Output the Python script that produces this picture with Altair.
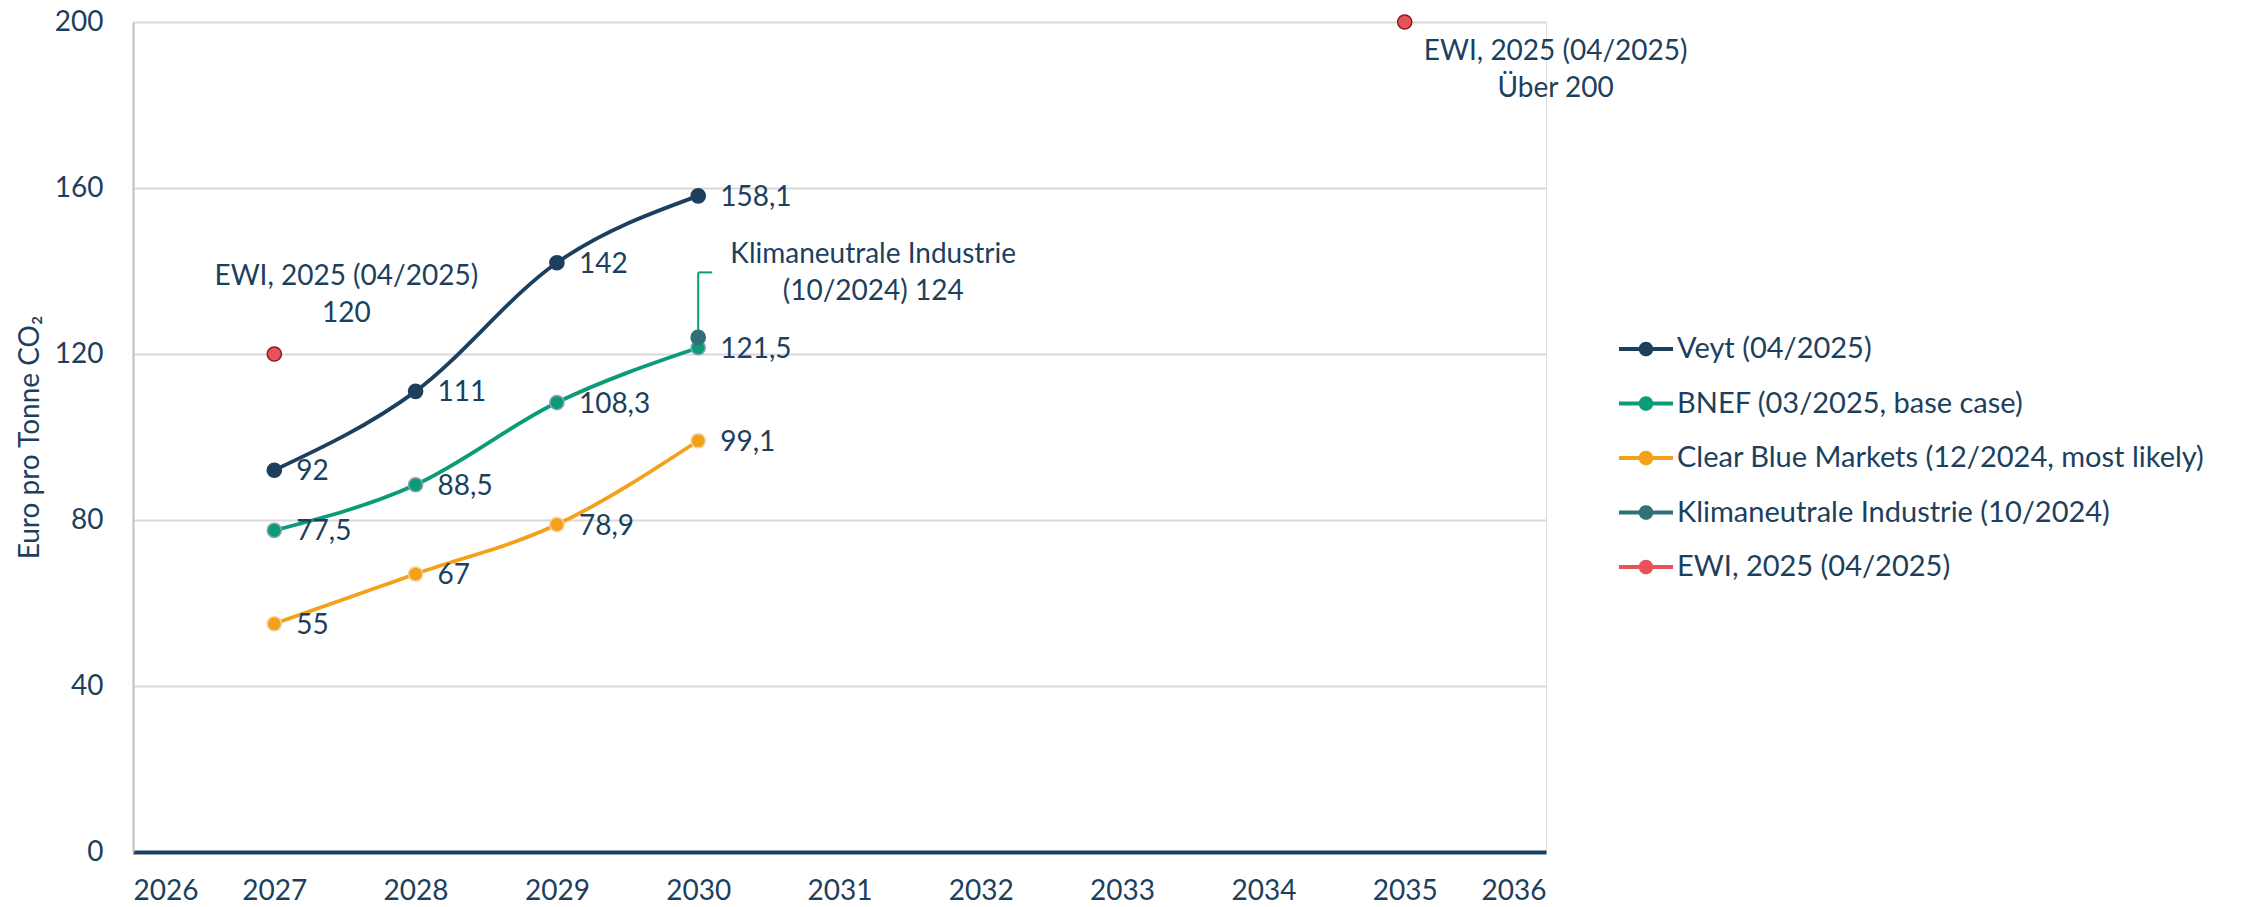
import altair as alt
import pandas as pd

# ---------------- data ----------------
series = [
    "Veyt (04/2025)",
    "BNEF (03/2025, base case)",
    "Clear Blue Markets (12/2024, most likely)",
    "Klimaneutrale Industrie (10/2024)",
    "EWI, 2025 (04/2025)",
]
years = [2027, 2028, 2029, 2030]
veyt = [92, 111, 142, 158.1]
bnef = [77.5, 88.5, 108.3, 121.5]
cbm = [55, 67, 78.9, 99.1]
klima_years = [2030]
klima = [124]
ewi_years = [2027, 2035]
ewi = [120, 200]

ann_series = ["EWI, 2025 (04/2025)", "EWI, 2025 (04/2025)", "Klimaneutrale Industrie (10/2024)"]
ann_years = [2027, 2035, 2030]
ann_values = [120, 200, 124]
ann_texts = [
    "EWI, 2025 (04/2025)\n120",
    "EWI, 2025 (04/2025)\nÜber 200",
    "Klimaneutrale Industrie\n(10/2024) 124",
]

x_ticks = list(range(2026, 2037))
y_ticks = [0, 40, 80, 120, 160, 200]

# ---------------- styles ----------------
NAVY = "#1D3F5E"
fills = ["#1D3F5E", "#0B9B77", "#F4A019", "#2F7174", "#E8525A"]
strokes = ["#1D3F5E", "#8FA0B8", "#F3CF9B", "#2F7174", "#8B1A1A"]
FONT = "Lato"


def fmt(v):
    s = f"{v:g}"
    return s.replace(".", ",")


rows = []
for name, xs, vs in [
    (series[0], years, veyt),
    (series[1], years, bnef),
    (series[2], years, cbm),
    (series[3], klima_years, klima),
    (series[4], ewi_years, ewi),
]:
    for x, v in zip(xs, vs):
        rows.append({"series": name, "year": x, "value": v, "label": fmt(v)})
df = pd.DataFrame(rows)

ann = pd.DataFrame(
    {"series": ann_series, "year": ann_years, "value": ann_values, "text": ann_texts, "idx": [0, 1, 2]}
)

x_enc = alt.X(
    "year:Q",
    scale=alt.Scale(domain=[2026, 2036], nice=False, zero=False),
    axis=alt.Axis(
        values=x_ticks,
        format="d",
        title=None,
        grid=False,
        ticks=False,
        domainColor=NAVY,
        domainWidth=4,
        labelFontSize=28,
        labelColor=NAVY,
        labelPadding=25,
        labelFont=FONT,
    ),
)
y_enc = alt.Y(
    "value:Q",
    scale=alt.Scale(domain=[0, 200], nice=False),
    axis=alt.Axis(
        values=y_ticks,
        title="Euro pro Tonne CO₂",
        titleFontSize=28,
        titleFontWeight="normal",
        titleColor=NAVY,
        titleFont=FONT,
        titlePadding=10,
        grid=True,
        gridColor="#D9D9D9",
        gridWidth=2,
        ticks=False,
        domainColor="#BFBFBF",
        domainWidth=2,
        labelFontSize=28,
        labelColor=NAVY,
        labelPadding=30,
        labelFont=FONT,
    ),
)

base = alt.Chart(df)
line_series = series[:3]

lines = base.transform_filter(
    alt.FieldOneOfPredicate(field="series", oneOf=line_series)
).mark_line(strokeWidth=3.8, interpolate="monotone").encode(
    x=x_enc,
    y=y_enc,
    color=alt.Color("series:N", scale=alt.Scale(domain=series, range=fills), legend=None),
    detail="series:N",
)

leg_path = (
    "M-1,-0.075H1V0.075H-1Z "
    "M-0.27,0A0.27,0.27 0 1,1 0.27,0A0.27,0.27 0 1,1 -0.27,0Z"
)

points = base.mark_point(filled=True, size=200, strokeWidth=1.5, opacity=1).encode(
    x="year:Q",
    y="value:Q",
    fill=alt.Fill(
        "series:N",
        scale=alt.Scale(domain=series, range=fills),
        legend=alt.Legend(
            title=None,
            orient="none",
            legendX=1486,
            legendY=300,
            symbolType=leg_path,
            symbolSize=2916,
            symbolStrokeWidth=0,
            symbolOpacity=1,
            labelFontSize=29,
            labelColor=NAVY,
            labelFont=FONT,
            labelLimit=0,
            labelOffset=4,
            rowPadding=12.5,
        ),
    ),
    stroke=alt.Stroke("series:N", scale=alt.Scale(domain=series, range=strokes), legend=None),
)

labels = base.transform_filter(
    alt.FieldOneOfPredicate(field="series", oneOf=line_series)
).mark_text(
    align="left", baseline="middle", dx=22, dy=2, fontSize=28, color=NAVY, font=FONT
).encode(x="year:Q", y="value:Q", text="label:N")

ann_base = alt.Chart(ann)
ann_offsets = [(72, -77), (151, 30), (175, -82)]
ann_layers = []
for i, (dx, dy) in enumerate(ann_offsets):
    ann_layers.append(
        ann_base.transform_filter(alt.datum.idx == i)
        .mark_text(
            align="center",
            baseline="middle",
            dx=dx,
            dy=dy,
            fontSize=28,
            color=NAVY,
            font=FONT,
            lineBreak="\n",
            lineHeight=37,
        )
        .encode(x="year:Q", y="value:Q", text="text:N")
    )

klima_ann = ann_base.transform_filter(alt.datum.idx == 2)
leader_v = klima_ann.mark_rule(color="#0B9B77", strokeWidth=2, y2Offset=-65).encode(
    x="year:Q", y="value:Q", y2="value:Q"
)
leader_h = klima_ann.mark_rule(
    color="#0B9B77", strokeWidth=2, yOffset=-65, x2Offset=14
).encode(x="year:Q", x2="year:Q", y="value:Q")

chart = (
    alt.layer(lines, leader_v, leader_h, points, labels, *ann_layers)
    .resolve_scale(color="independent", fill="independent", stroke="independent")
    .properties(
        width=1413,
        height=830,
        autosize=alt.AutoSizeParams(type="none"),
        padding={"left": 133, "top": 22, "right": 690, "bottom": 55},
    )
    .configure_view(stroke=None)
    .configure(font=FONT, background="white")
)

chart.save("out.html", embed_options={"renderer": "svg", "actions": False})
